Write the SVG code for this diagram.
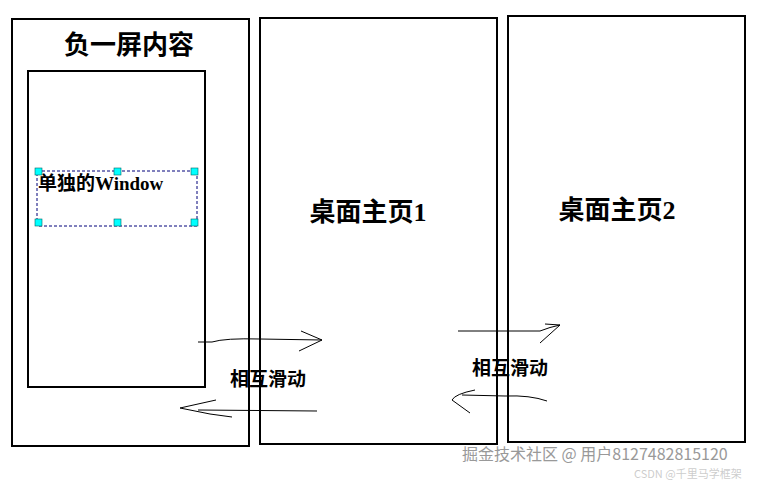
<svg xmlns="http://www.w3.org/2000/svg" width="784" height="480" viewBox="0 0 784 480">
<style>
.box{fill:#fff;stroke:#000;stroke-width:2}
.t{font-family:"Noto Sans CJK SC","Noto Sans",sans-serif;font-weight:bold;fill:#000}
.s{font-family:"Liberation Serif","Noto Sans CJK SC",serif;font-weight:bold;fill:#000}
.h{fill:cyan;stroke:#066;stroke-width:0.6}
.a{fill:none;stroke:#000;stroke-width:1}
.w{font-family:"Noto Sans CJK SC",sans-serif;fill:#999}
</style>
<rect width="784" height="480" fill="#fff"/>
<g id="screen-minus1">
<rect class="box" x="12" y="19" width="237" height="427"/>
<text class="t" x="129" y="54" font-size="26" text-anchor="middle">负一屏内容</text>
<rect class="box" x="28" y="71" width="177" height="316"/>
</g>
<g id="window">
<rect x="37" y="171" width="160" height="55" fill="none" stroke="#00007a" stroke-dasharray="3,2"/>
<text x="38" y="190" font-size="19" font-family="'Liberation Serif','Noto Sans CJK SC',serif" font-weight="bold">单独的Window</text>
<rect class="h" x="35" y="168" width="7" height="7"/><rect class="h" x="114" y="168" width="7" height="7"/><rect class="h" x="191" y="168" width="7" height="7"/>
<rect class="h" x="35" y="219" width="7" height="7"/><rect class="h" x="114" y="219" width="7" height="7"/><rect class="h" x="191" y="219" width="7" height="7"/>
</g>
<g id="home1">
<rect class="box" x="260" y="18" width="237" height="426"/>
<text class="s" x="368" y="221" font-size="26" text-anchor="middle">桌面主页1</text>
</g>
<g id="home2">
<rect class="box" x="508" y="16" width="237" height="426"/>
<text class="s" x="617" y="219" font-size="26" text-anchor="middle">桌面主页2</text>
</g>
<g id="connectors">
<path class="a" d="M198,342 L212,342 Q225,338 260,339 L322,340 M301,331 L322,340 L299,351"/>
<path class="a" d="M317,411 L198,410 M216,400 L180,408 L210,414 L232,417"/>
<path class="a" d="M458,331 L540,331 Q550,327 560,325 M545,324 L560,325 L540,343"/>
<path class="a" d="M547,401 Q530,395 505,396 L462,395 M475,390 Q455,394 452,400 L470,413"/>
</g>
<text class="t" x="268" y="386" font-size="19" text-anchor="middle">相互滑动</text>
<text class="t" x="510" y="375" font-size="19" text-anchor="middle">相互滑动</text>
<text class="w" x="462" y="460" font-size="16">掘金技术社区 @ 用户8127482815120</text>
<text class="w" x="634" y="478" font-size="11" fill-opacity="0.5">CSDN @千里马学框架</text>
</svg>
